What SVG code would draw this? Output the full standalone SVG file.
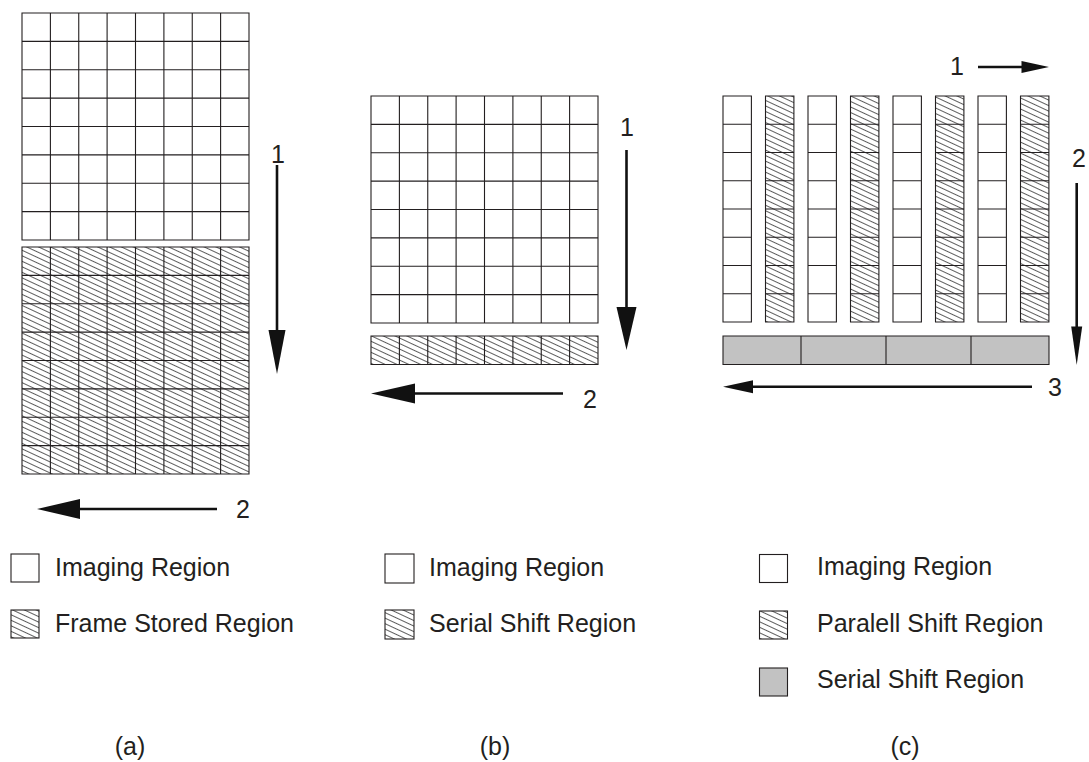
<svg xmlns="http://www.w3.org/2000/svg" width="1089" height="762" viewBox="0 0 1089 762">
<style>
text{font-family:"Liberation Sans",Arial,sans-serif;font-size:25px;fill:#231f20}
.g{fill:none;stroke:#231f20;stroke-width:1.1}
.w{fill:#fff}
.h{fill:url(#hatch)}
.s{fill:#c2c2c2}
.ln{stroke:#111;stroke-width:2.6;fill:none}
.ah{fill:#111}
</style>
<defs>
<pattern id="hatch" patternUnits="userSpaceOnUse" width="10" height="5" patternTransform="rotate(25)">
<rect width="10" height="5" fill="#fff"/>
<line x1="0" y1="2.5" x2="10" y2="2.5" stroke="#333" stroke-width="0.8"/>
</pattern>
</defs>
<rect width="1089" height="762" fill="#fff"/>

<g id="panel-a">
<g id="a-imaging">
<rect class="w" x="22" y="13" width="227" height="227"/>
<path class="g" d="M22 13H249V240H22Z M50.4 13V240 M78.75 13V240 M107.1 13V240 M135.5 13V240 M163.9 13V240 M192.25 13V240 M220.6 13V240 M22 41.4H249 M22 69.75H249 M22 98.1H249 M22 126.5H249 M22 154.9H249 M22 183.25H249 M22 211.6H249"/>
</g>
<g id="a-frame-stored">
<rect class="h" x="22" y="247" width="227" height="227"/>
<path class="g" d="M22 247H249V474H22Z M50.4 247V474 M78.75 247V474 M107.1 247V474 M135.5 247V474 M163.9 247V474 M192.25 247V474 M220.6 247V474 M22 275.4H249 M22 303.75H249 M22 332.1H249 M22 360.5H249 M22 388.9H249 M22 417.25H249 M22 445.6H249"/>
</g>
</g>

<g id="panel-b">
<g id="b-imaging">
<rect class="w" x="371" y="96" width="227" height="227"/>
<path class="g" d="M371 96H598V323H371Z M399.4 96V323 M427.75 96V323 M456.1 96V323 M484.5 96V323 M512.9 96V323 M541.25 96V323 M569.6 96V323 M371 124.4H598 M371 152.75H598 M371 181.1H598 M371 209.5H598 M371 237.9H598 M371 266.25H598 M371 294.6H598"/>
</g>
<g id="b-serial">
<rect class="h" x="371" y="336" width="227" height="28.5"/>
<path class="g" d="M371 336H598V364.5H371Z M399.4 336V364.5 M427.75 336V364.5 M456.1 336V364.5 M484.5 336V364.5 M512.9 336V364.5 M541.25 336V364.5 M569.6 336V364.5"/>
</g>
</g>

<g id="panel-c">
<g id="c-col1"><rect class="w" x="723" y="96" width="28.4" height="226"/><path class="g" d="M723 96h28.4v226h-28.4Z M723 124.25h28.4 M723 152.5h28.4 M723 180.75h28.4 M723 209h28.4 M723 237.25h28.4 M723 265.5h28.4 M723 293.75h28.4"/></g>
<g id="c-col2"><rect class="h" x="765.5" y="96" width="28.4" height="226"/><path class="g" d="M765.5 96h28.4v226h-28.4Z M765.5 124.25h28.4 M765.5 152.5h28.4 M765.5 180.75h28.4 M765.5 209h28.4 M765.5 237.25h28.4 M765.5 265.5h28.4 M765.5 293.75h28.4"/></g>
<g id="c-col3"><rect class="w" x="808" y="96" width="28.4" height="226"/><path class="g" d="M808 96h28.4v226h-28.4Z M808 124.25h28.4 M808 152.5h28.4 M808 180.75h28.4 M808 209h28.4 M808 237.25h28.4 M808 265.5h28.4 M808 293.75h28.4"/></g>
<g id="c-col4"><rect class="h" x="850.5" y="96" width="28.4" height="226"/><path class="g" d="M850.5 96h28.4v226h-28.4Z M850.5 124.25h28.4 M850.5 152.5h28.4 M850.5 180.75h28.4 M850.5 209h28.4 M850.5 237.25h28.4 M850.5 265.5h28.4 M850.5 293.75h28.4"/></g>
<g id="c-col5"><rect class="w" x="893" y="96" width="28.4" height="226"/><path class="g" d="M893 96h28.4v226h-28.4Z M893 124.25h28.4 M893 152.5h28.4 M893 180.75h28.4 M893 209h28.4 M893 237.25h28.4 M893 265.5h28.4 M893 293.75h28.4"/></g>
<g id="c-col6"><rect class="h" x="935.5" y="96" width="28.4" height="226"/><path class="g" d="M935.5 96h28.4v226h-28.4Z M935.5 124.25h28.4 M935.5 152.5h28.4 M935.5 180.75h28.4 M935.5 209h28.4 M935.5 237.25h28.4 M935.5 265.5h28.4 M935.5 293.75h28.4"/></g>
<g id="c-col7"><rect class="w" x="978" y="96" width="28.4" height="226"/><path class="g" d="M978 96h28.4v226h-28.4Z M978 124.25h28.4 M978 152.5h28.4 M978 180.75h28.4 M978 209h28.4 M978 237.25h28.4 M978 265.5h28.4 M978 293.75h28.4"/></g>
<g id="c-col8"><rect class="h" x="1020.5" y="96" width="28.4" height="226"/><path class="g" d="M1020.5 96h28.4v226h-28.4Z M1020.5 124.25h28.4 M1020.5 152.5h28.4 M1020.5 180.75h28.4 M1020.5 209h28.4 M1020.5 237.25h28.4 M1020.5 265.5h28.4 M1020.5 293.75h28.4"/></g>
<g id="c-serial">
<rect class="s" x="723" y="336" width="326" height="28.5"/>
<path class="g" d="M723 336H1049V364.5H723Z M801 336V364.5 M886 336V364.5 M971 336V364.5"/>
</g>
</g>

<g id="connectors">
<line class="ln" x1="277" y1="165" x2="277" y2="335"/>
<polygon class="ah" points="268.5,330 285.5,330 277,374"/>
<line class="ln" x1="70" y1="509" x2="217" y2="509"/>
<polygon class="ah" points="37,509 80,499 80,519"/>
<line class="ln" x1="626.5" y1="150" x2="626.5" y2="312"/>
<polygon class="ah" points="616.5,307 636.5,307 626.5,350"/>
<line class="ln" x1="405" y1="393.5" x2="563" y2="393.5"/>
<polygon class="ah" points="371,393.5 415,383.5 415,403.5"/>
<line class="ln" x1="978" y1="67" x2="1025" y2="67"/>
<polygon class="ah" points="1049,67 1021.5,61 1021.5,73"/>
<line class="ln" x1="1076.7" y1="183" x2="1076.7" y2="330"/>
<polygon class="ah" points="1071.2,326.5 1082.2,326.5 1076.7,365"/>
<line class="ln" x1="748" y1="386.7" x2="1032" y2="386.7"/>
<polygon class="ah" points="723,386.7 753,380.2 753,393.2"/>
</g>

<g id="arrow-labels">
<text x="271" y="163">1</text>
<text x="236" y="518">2</text>
<text x="620" y="136">1</text>
<text x="583" y="408">2</text>
<text x="950" y="75">1</text>
<text x="1072" y="167">2</text>
<text x="1048" y="396">3</text>
</g>

<g id="legend-a">
<rect class="w g" x="11" y="554" width="28" height="28"/>
<text x="55" y="576">Imaging Region</text>
<rect class="h" x="11" y="610" width="28" height="28"/><rect class="g" x="11" y="610" width="28" height="28"/>
<text x="55" y="632">Frame Stored Region</text>
</g>
<g id="legend-b">
<rect class="w g" x="385" y="554" width="29" height="29"/>
<text x="429" y="576">Imaging Region</text>
<rect class="h" x="385" y="610" width="29" height="29"/><rect class="g" x="385" y="610" width="29" height="29"/>
<text x="429" y="632">Serial Shift Region</text>
</g>
<g id="legend-c">
<rect class="w g" x="759.5" y="554.5" width="28" height="28"/>
<text x="817" y="575">Imaging Region</text>
<rect class="h" x="759.5" y="611" width="28" height="28"/><rect class="g" x="759.5" y="611" width="28" height="28"/>
<text x="817" y="632">Paralell Shift Region</text>
<rect class="s g" x="759.5" y="668" width="28" height="28"/>
<text x="817" y="688">Serial Shift Region</text>
</g>

<g id="captions">
<text x="130" y="755" text-anchor="middle">(a)</text>
<text x="495" y="755" text-anchor="middle">(b)</text>
<text x="905" y="755" text-anchor="middle">(c)</text>
</g>
</svg>
